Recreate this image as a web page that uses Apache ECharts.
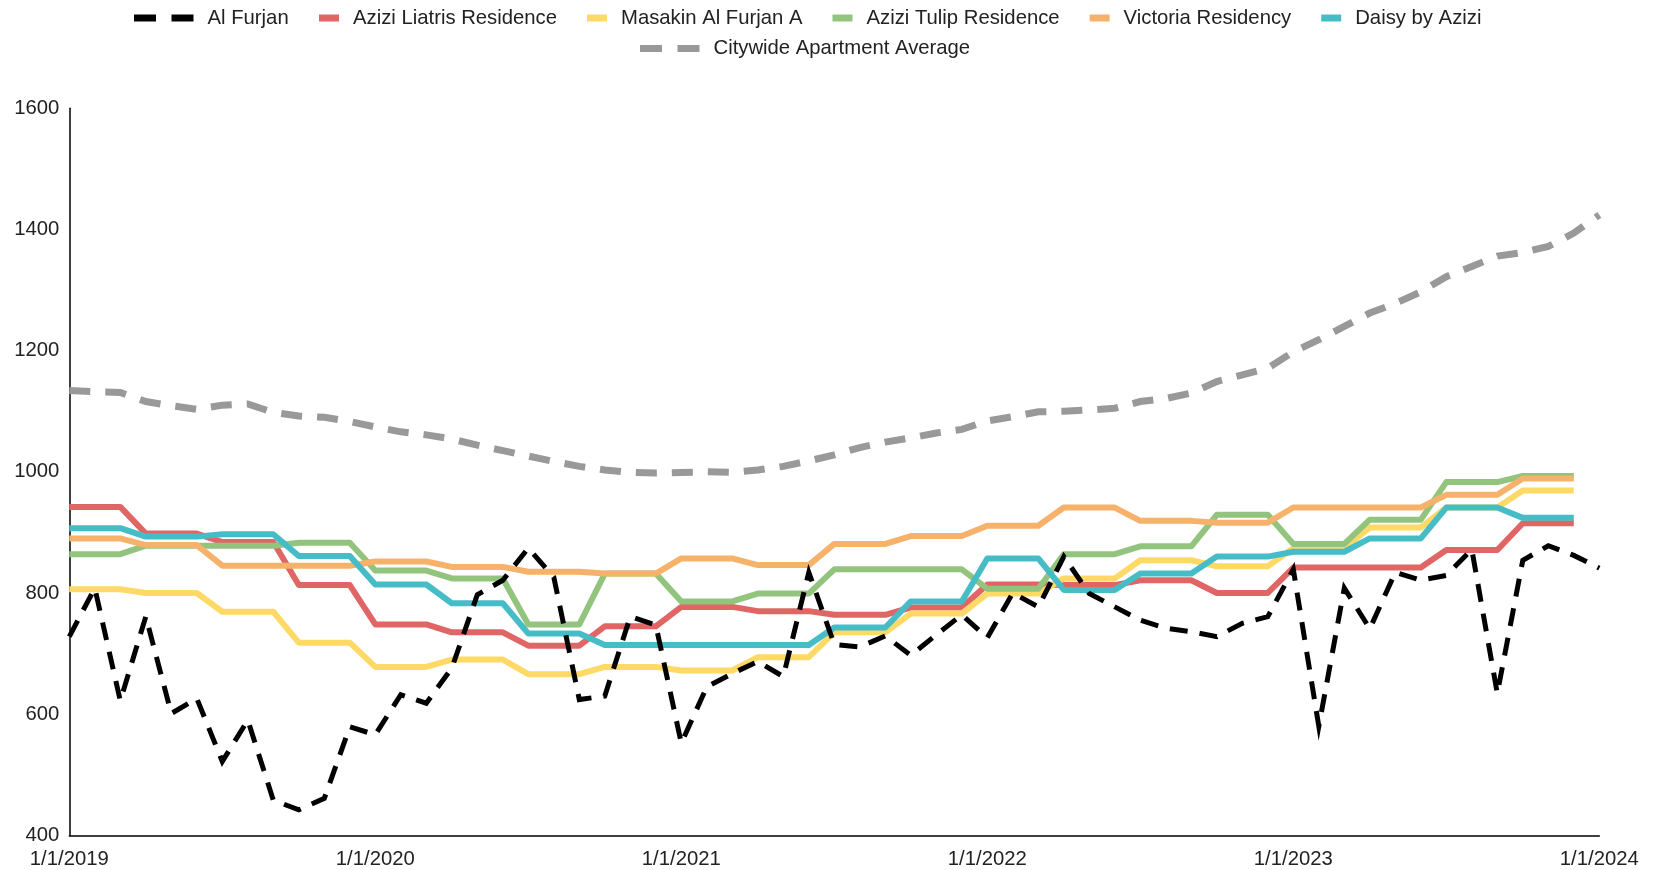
<!DOCTYPE html>
<html>
<head>
<meta charset="utf-8">
<script src="https://cdn.jsdelivr.net/npm/echarts@6/dist/echarts.min.js"></script>
<style>
  html, body { margin: 0; padding: 0; background: #ffffff; }
  #chart { width: 1653px; height: 870px; }
</style>
</head>
<body>
<div id="chart"></div>
<script>
const months = [
  "1/1/2019","2/1/2019","3/1/2019","4/1/2019","5/1/2019","6/1/2019","7/1/2019","8/1/2019","9/1/2019","10/1/2019","11/1/2019","12/1/2019",
  "1/1/2020","2/1/2020","3/1/2020","4/1/2020","5/1/2020","6/1/2020","7/1/2020","8/1/2020","9/1/2020","10/1/2020","11/1/2020","12/1/2020",
  "1/1/2021","2/1/2021","3/1/2021","4/1/2021","5/1/2021","6/1/2021","7/1/2021","8/1/2021","9/1/2021","10/1/2021","11/1/2021","12/1/2021",
  "1/1/2022","2/1/2022","3/1/2022","4/1/2022","5/1/2022","6/1/2022","7/1/2022","8/1/2022","9/1/2022","10/1/2022","11/1/2022","12/1/2022",
  "1/1/2023","2/1/2023","3/1/2023","4/1/2023","5/1/2023","6/1/2023","7/1/2023","8/1/2023","9/1/2023","10/1/2023","11/1/2023","12/1/2023",
  "1/1/2024"
];

const alFurjan = [
  728, 808, 622, 761, 601, 626, 522, 590, 458, 442, 461, 579,
  566, 632, 618, 676, 797, 821, 874, 826, 624, 630, 761, 747,
  552, 645, 667, 687, 662, 834, 715, 711, 729, 697, 731, 764,
  726, 800, 777, 860, 799, 777, 755, 742, 736, 728, 750, 761,
  839, 580, 808, 741, 834, 821, 829, 872, 634, 854, 878, 862,
  841
];

const aziziLiatris = [
  942, 942, 942, 898, 898, 898, 884, 884, 884, 813, 813, 813,
  748, 748, 748, 735, 735, 735, 713, 713, 713, 745, 745, 745,
  777, 777, 777, 770, 770, 770, 764, 764, 764, 776, 776, 776,
  814, 814, 814, 813, 813, 813, 821, 821, 821, 800, 800, 800,
  842, 842, 842, 842, 842, 842, 871, 871, 871, 915, 915, 915
];

const masakin = [
  806, 806, 806, 800, 800, 800, 769, 769, 769, 718, 718, 718,
  678, 678, 678, 690, 690, 690, 666, 666, 666, 678, 678, 678,
  672, 672, 672, 694, 694, 694, 735, 735, 735, 766, 766, 766,
  799, 799, 799, 824, 824, 824, 854, 854, 854, 844, 844, 844,
  874, 874, 874, 908, 908, 908, 941, 941, 941, 969, 969, 969
];

const aziziTulip = [
  864, 864, 864, 878, 878, 878, 878, 878, 878, 883, 883, 883,
  837, 837, 837, 824, 824, 824, 748, 748, 748, 832, 832, 832,
  786, 786, 786, 799, 799, 799, 839, 839, 839, 839, 839, 839,
  807, 807, 807, 864, 864, 864, 877, 877, 877, 929, 929, 929,
  881, 881, 881, 921, 921, 921, 983, 983, 983, 993, 993, 993
];

const victoria = [
  890, 890, 890, 879, 879, 879, 845, 845, 845, 845, 845, 845,
  852, 852, 852, 843, 843, 843, 835, 835, 835, 832, 832, 832,
  857, 857, 857, 846, 846, 846, 881, 881, 881, 894, 894, 894,
  911, 911, 911, 941, 941, 941, 919, 919, 919, 916, 916, 916,
  941, 941, 941, 941, 941, 941, 962, 962, 962, 989, 989, 989
];

const daisy = [
  907, 907, 907, 893, 893, 893, 897, 897, 897, 861, 861, 861,
  814, 814, 814, 783, 783, 783, 733, 733, 733, 714, 714, 714,
  714, 714, 714, 714, 714, 714, 743, 743, 743, 786, 786, 786,
  857, 857, 857, 805, 805, 805, 832, 832, 832, 860, 860, 860,
  868, 868, 868, 890, 890, 890, 941, 941, 941, 924, 924, 924
];

const citywide = [
  1134, 1132, 1131, 1116, 1109, 1103, 1110, 1112, 1098, 1092, 1090, 1083,
  1074, 1066, 1061, 1054, 1044, 1035, 1026, 1017, 1009, 1003, 999, 998,
  999, 1000, 999, 1003, 1009, 1018, 1028, 1040, 1049, 1056, 1064, 1070,
  1084, 1091, 1099, 1100, 1102, 1105, 1116, 1121, 1130, 1149, 1160, 1171,
  1198, 1218, 1240, 1262, 1278, 1297, 1322, 1339, 1356, 1362, 1372, 1394,
  1424
];

const yTicks = { min: 400, max: 1600, interval: 200 };

const FONT = '"Liberation Sans", Arial, sans-serif';
const TXT = '#222222';
const FS = 20.3;
const dashIcon = 'path://M0,0H22V7H0Z M37.5,0H59.5V7H37.5Z';

const chart = echarts.init(document.getElementById('chart'), null, { renderer: 'canvas' });

function solid(name, data, color) {
  return {
    name, type: 'line', data, color,
    symbol: 'none', showSymbol: false, smooth: false,
    lineStyle: { color, width: 6, join: 'round', cap: 'butt' },
    itemStyle: { color },
    z: 2
  };
}

chart.setOption({
  backgroundColor: '#ffffff',
  animation: false,
  textStyle: { fontFamily: FONT },
  grid: { left: 69.3, right: 53.7, top: 108.3, bottom: 34.7, containLabel: false },
  legend: [
    {
      left: 134, top: 8, padding: 0, itemWidth: 59.5, itemHeight: 7, itemGap: 30,
      icon: dashIcon,
      data: ['Al Furjan'],
      textStyle: { fontFamily: FONT, fontSize: FS, color: TXT, padding: [0, 0, 0, 9] }
    },
    {
      left: 319, top: 8, padding: 0, itemWidth: 20, itemHeight: 7, itemGap: 30,
      icon: 'rect',
      data: ['Azizi Liatris Residence', 'Masakin Al Furjan A', 'Azizi Tulip Residence', 'Victoria Residency', 'Daisy by Azizi'],
      textStyle: { fontFamily: FONT, fontSize: FS, color: TXT, padding: [0, 0, 0, 9] }
    },
    {
      left: 640, top: 38.5, padding: 0, itemWidth: 59.5, itemHeight: 7,
      icon: dashIcon,
      data: ['Citywide Apartment Average'],
      textStyle: { fontFamily: FONT, fontSize: FS, color: TXT, padding: [0, 0, 0, 9] }
    }
  ],
  xAxis: {
    type: 'category',
    data: months,
    boundaryGap: false,
    axisLine: { show: true, lineStyle: { color: '#000000', width: 1.5 } },
    axisTick: { show: false },
    splitLine: { show: false },
    axisLabel: {
      interval: 11, margin: 14, color: TXT, fontFamily: FONT, fontSize: FS,
      showMinLabel: true, showMaxLabel: true
    }
  },
  yAxis: {
    type: 'value',
    min: yTicks.min, max: yTicks.max, interval: yTicks.interval,
    axisLine: { show: true, lineStyle: { color: '#000000', width: 1.5 } },
    axisTick: { show: false },
    splitLine: { show: false },
    axisLabel: { margin: 10, color: TXT, fontFamily: FONT, fontSize: FS, formatter: (v) => String(v) }
  },
  series: [
    solid('Azizi Liatris Residence', aziziLiatris, '#e06666'),
    solid('Masakin Al Furjan A', masakin, '#ffd966'),
    solid('Azizi Tulip Residence', aziziTulip, '#93c47d'),
    solid('Victoria Residency', victoria, '#f6b26b'),
    solid('Daisy by Azizi', daisy, '#46bdc6'),
    {
      name: 'Al Furjan', type: 'line', data: alFurjan, color: '#000000',
      symbol: 'none', showSymbol: false,
      lineStyle: { color: '#000000', width: 5, type: [18, 12], cap: 'butt', join: 'miter' },
      itemStyle: { color: '#000000' },
      z: 3
    },
    {
      name: 'Citywide Apartment Average', type: 'line', data: citywide, color: '#999999',
      symbol: 'none', showSymbol: false,
      lineStyle: { color: '#999999', width: 7, type: [21, 15], cap: 'butt', join: 'miter' },
      itemStyle: { color: '#999999' },
      z: 2
    }
  ]
});
</script>
</body>
</html>
